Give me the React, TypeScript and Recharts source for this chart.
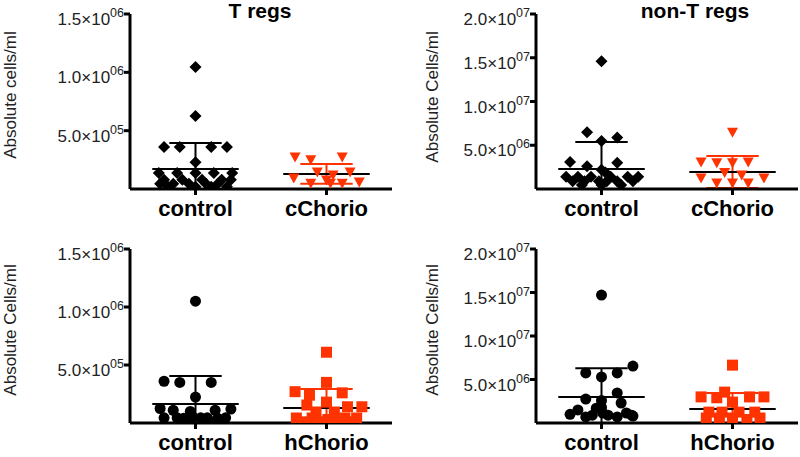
import React from "react";
import { ScatterChart, Scatter, XAxis, YAxis, ReferenceLine } from "recharts";

const RED = "#ff3300";
const FONT = "'Liberation Sans', Arial, Helvetica, sans-serif";

const topGroups = ["control", "cChorio"];
const bottomGroups = ["control", "hChorio"];
const tregTicks = [5e5, 1e6, 1.5e6];
const nonTregTicks = [5e6, 1e7, 1.5e7, 2e7];

// T regs, control vs cChorio (cells/ml)
const tregCtrlA = [1.045e6, 6.26e5, 3.6e5, 3.6e5, 3.6e5, 3.6e5, 2.3e5, 1.37e5, 1.37e5, 1.37e5, 1.37e5, 1.37e5, 0.8e5, 0.8e5, 0.8e5, 0.8e5, 0.8e5, 0.45e5, 0.45e5, 0.45e5, 0.45e5, 0.45e5, 0.2e5, 0.2e5, 0.2e5, 0.2e5];
const tregCtrlAJitter = [0, 0, -0.24, -0.12, 0.12, 0.24, 0, -0.28, -0.14, 0, 0.14, 0.28, -0.24, -0.1, 0.05, 0.2, 0.27, -0.27, -0.17, -0.05, 0.08, 0.17, -0.21, 0, 0.12, 0.24];
const tregCChorio = [2.74e5, 2.5e5, 2.74e5, 1.46e5, 1.2e5, 1.46e5, 0.94e5, 0.6e5, 0.5e5, 0.77e5, 0.5e5, 0.5e5];
const tregCChorioJitter = [-0.24, -0.12, 0.12, -0.07, 0.05, 0.18, -0.25, 0.25, -0.12, 0, 0.12, 0.03];
const tregTopMeans = [1.71e5, 1.29e5];
const tregTopSDs = [2.23e5, 0.85e5];

// non-T regs, control vs cChorio
const nonTregCtrlA = [1.46e7, 6.5e6, 5.5e6, 5.9e6, 3.1e6, 2.6e6, 3.0e6, 2.2e6, 1.9e6, 1.4e6, 1.4e6, 1.4e6, 1.4e6, 1.4e6, 1.4e6, 0.9e6, 0.9e6, 0.9e6, 0.9e6, 0.9e6, 0.9e6, 0.45e6, 0.45e6, 0.45e6];
const nonTregCtrlAJitter = [0, -0.11, 0, 0.12, -0.24, -0.11, 0.12, 0, 0.03, -0.27, -0.18, -0.08, 0.07, 0.2, 0.28, -0.22, -0.13, -0.02, 0.04, 0.12, 0.24, -0.15, 0, 0.15];
const nonTregCChorio = [6.5e6, 3.1e6, 3.0e6, 3.0e6, 3.1e6, 1.9e6, 1.6e6, 1.26e6, 1.26e6, 0.7e6, 0.7e6, 0.7e6];
const nonTregCChorioJitter = [0, -0.24, -0.12, 0, 0.12, -0.06, 0.07, -0.24, 0.24, -0.12, 0, 0.12];
const nonTregTopMeans = [2.29e6, 1.94e6];
const nonTregTopSDs = [3.08e6, 1.83e6];

// T regs, control vs hChorio
const tregCtrlB = [1.05e6, 3.6e5, 3.5e5, 3.5e5, 2.24e5, 1.25e5, 1.1e5, 1.0e5, 1.1e5, 1.2e5, 0.45e5, 0.45e5, 0.4e5, 0.5e5, 0.45e5, 0.45e5, 0.4e5, 0.45e5, 0.2e5, 0.2e5];
const tregCtrlBJitter = [0, -0.24, -0.12, 0.12, 0, -0.27, -0.17, -0.04, 0.15, 0.27, -0.24, -0.14, -0.09, -0.02, 0.04, 0.09, 0.17, 0.23, -0.05, 0.1];
const tregHChorio = [6.1e5, 3.5e5, 2.7e5, 2.4e5, 2.6e5, 1.8e5, 1.55e5, 1.4e5, 1.4e5, 0.95e5, 0.95e5, 0.43e5, 0.43e5, 0.3e5, 0.43e5, 0.43e5, 0.1e5, 0.1e5, 0.1e5, 0.1e5];
const tregHChorioJitter = [0, 0, -0.24, -0.13, 0.12, 0, -0.15, 0.16, 0.27, -0.08, 0.06, -0.23, -0.11, 0.01, 0.14, 0.23, -0.17, -0.05, 0.08, 0.2];
const tregBottomMeans = [1.64e5, 1.3e5];
const tregBottomSDs = [2.41e5, 1.63e5];

// non-T regs, control vs hChorio
const nonTregCtrlB = [1.47e7, 6.55e6, 5.75e6, 5.75e6, 5.3e6, 3.45e6, 2.75e6, 2.6e6, 2.3e6, 1.8e6, 1.7e6, 1.5e6, 1.0e6, 0.8e6, 1.15e6, 1.15e6, 0.9e6, 0.9e6, 0.7e6, 0.7e6, 0.9e6];
const nonTregCtrlBJitter = [0, 0.24, -0.12, 0.12, 0, 0.12, -0.12, 0, 0.15, 0, -0.04, -0.18, -0.24, 0.24, 0.19, 0.01, 0.05, -0.07, -0.12, 0.12, 0.23];
const nonTregHChorio = [6.65e6, 3.0e6, 2.9e6, 3.55e6, 3.0e6, 3.0e6, 2.4e6, 1.25e6, 1.25e6, 1.25e6, 1.25e6, 0.57e6, 0.57e6, 0.57e6, 0.4e6, 0.57e6];
const nonTregHChorioJitter = [0, -0.24, -0.12, -0.06, 0.13, 0.24, 0, -0.18, -0.08, 0.05, 0.17, -0.2, -0.1, 0, 0.11, 0.21];
const nonTregBottomMeans = [2.99e6, 1.6e6];
const nonTregBottomSDs = [3.31e6, 1.85e6];

type Kind = "diamond" | "triangle" | "circle" | "square";

const makeShape = (kind: Kind, color: string) => (props: any) => {
  const { cx, cy } = props;
  if (cx == null || cy == null) return <g />;
  if (kind === "diamond")
    return <polygon points={`${cx},${cy - 6} ${cx + 6},${cy} ${cx},${cy + 6} ${cx - 6},${cy}`} fill={color} />;
  if (kind === "triangle")
    return <polygon points={`${cx - 5.5},${cy - 4.5} ${cx + 5.5},${cy - 4.5} ${cx},${cy + 5.5}`} fill={color} />;
  if (kind === "circle") return <circle cx={cx} cy={cy} r={5.5} fill={color} />;
  return <rect x={cx - 5.5} y={cy - 5.5} width={11} height={11} fill={color} />;
};

const SciTick = (props: any) => {
  const { x, y, payload } = props;
  const v = payload.value;
  const exp = Math.floor(Math.log10(v) + 1e-9);
  const mant = (v / Math.pow(10, exp)).toFixed(1);
  return (
    <text x={x} y={y + 11} textAnchor="end" fontSize={17} fill="#222" fontFamily={FONT}>
      {mant}×10
      <tspan dy={-8} fontSize={12.5}>{String(exp).padStart(2, "0")}</tspan>
    </text>
  );
};

const AxisTitle = ({ tx, ty, text }: any) => (
  <text x={tx} y={ty} transform={`rotate(-90 ${tx} ${ty})`} textAnchor="middle" fontSize={17} fill="#222" fontFamily={FONT}>
    {text}
  </text>
);

type PanelProps = {
  left: number;
  top: number;
  height: number;
  title?: string;
  titleX?: number;
  yLabel: string;
  labelX: number;
  labelY: number;
  yMax: number;
  ticks: number[];
  names: string[];
  plotTop: number;
  zeroY: number;
  yAxisWidth: number;
  labelGap: number;
  groups: { values: number[]; jitter: number[]; kind: Kind; color: string }[];
  means: number[];
  sds: number[];
};

const Panel = (p: PanelProps) => {
  const W = 400;
  return (
    <div style={{ position: "absolute", left: p.left, top: p.top, width: W, height: p.height }}>
      <ScatterChart
        width={W}
        height={p.height}
        margin={{ top: p.plotTop, right: W - p.yAxisWidth - 262, bottom: p.height - p.zeroY - 30, left: 0 }}
      >
        <XAxis
          type="number"
          dataKey="x"
          domain={[0.5, 2.5]}
          ticks={[1, 2]}
          allowDataOverflow
          height={30}
          tickFormatter={(v: number) => p.names[Math.round(v) - 1]}
          axisLine={{ stroke: "#000", strokeWidth: 3 }}
          tickLine={{ stroke: "#000", strokeWidth: 3 }}
          tickSize={6}
          tickMargin={p.labelGap}
          tick={{ fill: "#000", fontSize: 22, fontWeight: "bold", fontFamily: FONT }}
        />
        <YAxis
          type="number"
          dataKey="y"
          domain={[0, p.yMax]}
          ticks={p.ticks}
          allowDataOverflow
          width={p.yAxisWidth}
          axisLine={{ stroke: "#000", strokeWidth: 3 }}
          tickLine={{ stroke: "#000", strokeWidth: 3 }}
          tickSize={6}
          tickMargin={0}
          tick={<SciTick />}
          label={<AxisTitle tx={p.labelX} ty={p.labelY} text={p.yLabel} />}
        />
        {p.groups.map((g, i) => (
          <Scatter
            key={`s${i}`}
            data={g.values.map((v, j) => ({ x: i + 1 + g.jitter[j], y: v }))}
            shape={makeShape(g.kind, g.color)}
            isAnimationActive={false}
          />
        ))}
        {p.groups.map((g, i) => {
          const c = i + 1;
          const hi = p.means[i] + p.sds[i];
          const lo = Math.max(0, p.means[i] - p.sds[i]);
          const barColor = g.color === RED ? RED : "#000";
          const out = [
            <ReferenceLine key={`w${i}`} segment={[{ x: c, y: lo }, { x: c, y: hi }]} stroke={barColor} strokeWidth={2} ifOverflow="visible" />,
            <ReferenceLine key={`c${i}`} segment={[{ x: c - 0.2, y: hi }, { x: c + 0.2, y: hi }]} stroke={barColor} strokeWidth={2} ifOverflow="visible" />,
            <ReferenceLine key={`m${i}`} segment={[{ x: c - 0.33, y: p.means[i] }, { x: c + 0.33, y: p.means[i] }]} stroke="#000" strokeWidth={2} ifOverflow="visible" />,
          ];
          if (lo > 0)
            out.push(
              <ReferenceLine key={`l${i}`} segment={[{ x: c - 0.2, y: lo }, { x: c + 0.2, y: lo }]} stroke={barColor} strokeWidth={2} ifOverflow="visible" />
            );
          return out;
        })}
      </ScatterChart>
      {p.title && (
        <div
          style={{
            position: "absolute",
            left: (p.titleX ?? 200) - 100,
            top: 0,
            width: 200,
            textAlign: "center",
            fontFamily: FONT,
            fontWeight: "bold",
            fontSize: 21,
            lineHeight: "21px",
            color: "#000",
          }}
        >
          {p.title}
        </div>
      )}
    </div>
  );
};

export default function App() {
  return (
    <div style={{ position: "absolute", left: 0, top: 0, width: 800, height: 457, background: "#fff", fontFamily: FONT, overflow: "hidden" }}>
      <Panel
        left={0}
        top={0}
        height={228}
        title="T regs"
        titleX={260}
        yLabel="Absolute cells/ml"
        labelX={16}
        labelY={95}
        yMax={1.5e6}
        ticks={tregTicks}
        names={topGroups}
        plotTop={14}
        zeroY={189}
        yAxisWidth={130}
        labelGap={5}
        groups={[
          { values: tregCtrlA, jitter: tregCtrlAJitter, kind: "diamond", color: "#000" },
          { values: tregCChorio, jitter: tregCChorioJitter, kind: "triangle", color: RED },
        ]}
        means={tregTopMeans}
        sds={tregTopSDs}
      />
      <Panel
        left={400}
        top={0}
        height={228}
        title="non-T regs"
        titleX={295}
        yLabel="Absolute Cells/ml"
        labelX={38}
        labelY={97}
        yMax={2e7}
        ticks={nonTregTicks}
        names={topGroups}
        plotTop={14}
        zeroY={189}
        yAxisWidth={136}
        labelGap={5}
        groups={[
          { values: nonTregCtrlA, jitter: nonTregCtrlAJitter, kind: "diamond", color: "#000" },
          { values: nonTregCChorio, jitter: nonTregCChorioJitter, kind: "triangle", color: RED },
        ]}
        means={nonTregTopMeans}
        sds={nonTregTopSDs}
      />
      <Panel
        left={0}
        top={227}
        height={230}
        yLabel="Absolute Cells/ml"
        labelX={16}
        labelY={103}
        yMax={1.5e6}
        ticks={tregTicks}
        names={bottomGroups}
        plotTop={22}
        zeroY={196}
        yAxisWidth={130}
        labelGap={5}
        groups={[
          { values: tregCtrlB, jitter: tregCtrlBJitter, kind: "circle", color: "#000" },
          { values: tregHChorio, jitter: tregHChorioJitter, kind: "square", color: RED },
        ]}
        means={tregBottomMeans}
        sds={tregBottomSDs}
      />
      <Panel
        left={400}
        top={227}
        height={230}
        yLabel="Absolute Cells/ml"
        labelX={38}
        labelY={103}
        yMax={2e7}
        ticks={nonTregTicks}
        names={bottomGroups}
        plotTop={22}
        zeroY={196}
        yAxisWidth={136}
        labelGap={5}
        groups={[
          { values: nonTregCtrlB, jitter: nonTregCtrlBJitter, kind: "circle", color: "#000" },
          { values: nonTregHChorio, jitter: nonTregHChorioJitter, kind: "square", color: RED },
        ]}
        means={nonTregBottomMeans}
        sds={nonTregBottomSDs}
      />
    </div>
  );
}
